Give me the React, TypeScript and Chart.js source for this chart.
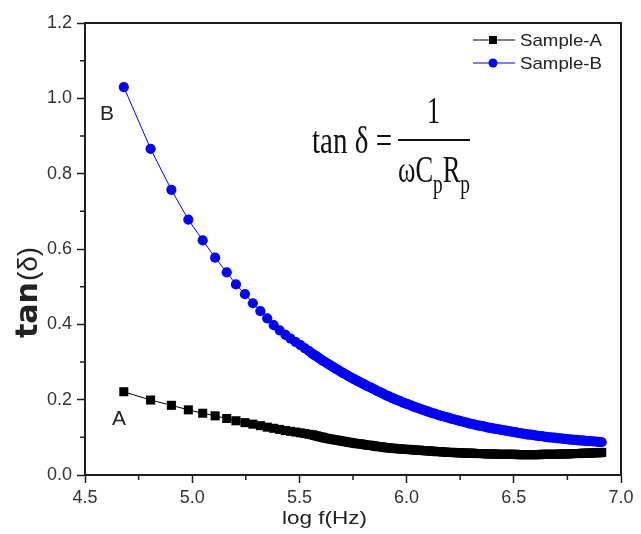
import React, { useEffect, useRef } from "react";
import { Chart, registerables } from "chart.js";

Chart.register(...registerables);

// log f (Hz) values of the measured points
const logF: number[] = [
  4.681, 4.806, 4.903, 4.982, 5.049, 5.107, 5.161, 5.204, 5.246, 5.283,
  5.318, 5.350, 5.380, 5.408, 5.435, 5.459, 5.483, 5.505, 5.526, 5.545,
  5.56, 5.57, 5.58, 5.59, 5.60, 5.61, 5.62, 5.63, 5.64, 5.65,
  5.66, 5.67, 5.68, 5.69, 5.70, 5.71, 5.72, 5.73, 5.74, 5.75,
  5.76, 5.77, 5.78, 5.79, 5.80, 5.81, 5.82, 5.83, 5.84, 5.85,
  5.86, 5.87, 5.88, 5.89, 5.90, 5.91, 5.92, 5.93, 5.94, 5.95,
  5.96, 5.97, 5.98, 5.99, 6.00, 6.01, 6.02, 6.03, 6.04, 6.05,
  6.06, 6.07, 6.08, 6.09, 6.10, 6.11, 6.12, 6.13, 6.14, 6.15,
  6.16, 6.17, 6.18, 6.19, 6.20, 6.21, 6.22, 6.23, 6.24, 6.25,
  6.26, 6.27, 6.28, 6.29, 6.30, 6.31, 6.32, 6.33, 6.34, 6.35,
  6.36, 6.37, 6.38, 6.39, 6.40, 6.41, 6.42, 6.43, 6.44, 6.45,
  6.46, 6.47, 6.48, 6.49, 6.50, 6.51, 6.52, 6.53, 6.54, 6.55,
  6.56, 6.57, 6.58, 6.59, 6.60, 6.61, 6.62, 6.63, 6.64, 6.65,
  6.66, 6.67, 6.68, 6.69, 6.70, 6.71, 6.72, 6.73, 6.74, 6.75,
  6.76, 6.77, 6.78, 6.79, 6.80, 6.81, 6.82, 6.83, 6.84, 6.85,
  6.86, 6.87, 6.88, 6.89, 6.90, 6.91,
];

const sampleA: number[] = [
  0.221, 0.199, 0.185, 0.173, 0.164, 0.157, 0.150, 0.144, 0.139, 0.135,
  0.131, 0.127, 0.124, 0.121, 0.118, 0.116, 0.114, 0.112, 0.110, 0.108,
  0.107, 0.105, 0.104, 0.102, 0.101, 0.100, 0.098, 0.097, 0.096, 0.095,
  0.094, 0.093, 0.092, 0.091, 0.090, 0.089, 0.088, 0.087, 0.086, 0.085,
  0.084, 0.083, 0.083, 0.082, 0.081, 0.080, 0.079, 0.079, 0.078, 0.077,
  0.076, 0.075, 0.075, 0.074, 0.073, 0.072, 0.072, 0.071, 0.071, 0.070,
  0.070, 0.069, 0.069, 0.068, 0.068, 0.068, 0.067, 0.067, 0.066, 0.066,
  0.066, 0.065, 0.065, 0.064, 0.064, 0.064, 0.063, 0.063, 0.062, 0.062,
  0.062, 0.061, 0.061, 0.060, 0.060, 0.060, 0.060, 0.059, 0.059, 0.059,
  0.059, 0.058, 0.058, 0.058, 0.058, 0.058, 0.057, 0.057, 0.057, 0.057,
  0.057, 0.056, 0.056, 0.056, 0.056, 0.056, 0.055, 0.055, 0.055, 0.055,
  0.055, 0.055, 0.055, 0.055, 0.055, 0.055, 0.054, 0.054, 0.054, 0.054,
  0.054, 0.054, 0.054, 0.054, 0.054, 0.054, 0.054, 0.055, 0.055, 0.055,
  0.055, 0.055, 0.055, 0.055, 0.055, 0.055, 0.056, 0.056, 0.056, 0.056,
  0.056, 0.057, 0.057, 0.057, 0.057, 0.057, 0.058, 0.058, 0.058, 0.058,
  0.058, 0.059, 0.059, 0.059, 0.059, 0.060,
];

const sampleB: number[] = [
  1.030, 0.866, 0.757, 0.678, 0.623, 0.577, 0.538, 0.506, 0.480, 0.456,
  0.435, 0.416, 0.398, 0.384, 0.372, 0.362, 0.353, 0.345, 0.336, 0.329,
  0.322, 0.318, 0.315, 0.311, 0.307, 0.303, 0.300, 0.296, 0.293, 0.289,
  0.286, 0.282, 0.279, 0.275, 0.272, 0.269, 0.266, 0.262, 0.259, 0.256,
  0.253, 0.250, 0.247, 0.244, 0.241, 0.238, 0.235, 0.233, 0.230, 0.227,
  0.224, 0.221, 0.219, 0.216, 0.213, 0.210, 0.208, 0.205, 0.203, 0.200,
  0.198, 0.196, 0.193, 0.191, 0.189, 0.187, 0.185, 0.182, 0.180, 0.178,
  0.176, 0.174, 0.172, 0.170, 0.168, 0.166, 0.164, 0.163, 0.161, 0.159,
  0.157, 0.156, 0.154, 0.153, 0.151, 0.149, 0.148, 0.146, 0.145, 0.143,
  0.142, 0.140, 0.139, 0.137, 0.136, 0.135, 0.133, 0.132, 0.131, 0.130,
  0.129, 0.127, 0.126, 0.125, 0.124, 0.123, 0.122, 0.121, 0.120, 0.119,
  0.118, 0.117, 0.116, 0.115, 0.114, 0.113, 0.112, 0.111, 0.110, 0.109,
  0.108, 0.107, 0.107, 0.106, 0.105, 0.104, 0.103, 0.103, 0.102, 0.101,
  0.100, 0.100, 0.099, 0.099, 0.098, 0.097, 0.097, 0.096, 0.096, 0.095,
  0.094, 0.094, 0.093, 0.093, 0.092, 0.092, 0.091, 0.091, 0.090, 0.090,
  0.090, 0.089, 0.089, 0.088, 0.088, 0.087,
];

const seriesNames = ["Sample-A", "Sample-B"];
const xMinorTicks = [4.75, 5.25, 5.75, 6.25, 6.75];
const yMinorTicks = [0.1, 0.3, 0.5, 0.7, 0.9, 1.1];

const AXIS = "#1e1e1e";
const TEXT = "#222";
const BLUE = "#0000ff";
const SANS = "'Liberation Sans', Arial, sans-serif";
const SERIF = "'Liberation Serif', 'Times New Roman', serif";

function scaledText(
  ctx: CanvasRenderingContext2D,
  text: string,
  x: number,
  y: number,
  font: string,
  width: number,
  align: "left" | "center" | "right"
) {
  ctx.save();
  ctx.font = font;
  const w = ctx.measureText(text).width;
  const s = width / w;
  let x0 = x;
  if (align === "center") x0 = x - width / 2;
  if (align === "right") x0 = x - width;
  ctx.translate(x0, y);
  ctx.scale(s, 1);
  ctx.textAlign = "left";
  ctx.textBaseline = "alphabetic";
  ctx.fillText(text, 0, 0);
  ctx.restore();
}

const overlayPlugin = {
  id: "overlay",
  afterDraw(chart: any) {
    const { ctx, chartArea: ca, scales } = chart;
    const xs = scales.x;
    const ys = scales.y;
    ctx.save();
    ctx.strokeStyle = AXIS;
    ctx.lineWidth = 2;
    ctx.beginPath();
    ctx.moveTo(ca.left - 1, ca.top);
    ctx.lineTo(ca.right, ca.top);
    ctx.lineTo(ca.right, ca.bottom + 1);
    ctx.stroke();

    // minor ticks
    ctx.lineWidth = 1.5;
    ctx.beginPath();
    for (const v of xMinorTicks) {
      const px = xs.getPixelForValue(v);
      ctx.moveTo(px, ca.bottom);
      ctx.lineTo(px, ca.bottom + 5);
    }
    for (const v of yMinorTicks) {
      const py = ys.getPixelForValue(v);
      ctx.moveTo(ca.left - 5, py);
      ctx.lineTo(ca.left, py);
    }
    ctx.stroke();

    ctx.fillStyle = TEXT;
    // x title
    scaledText(ctx, "log f(Hz)", 324.5, 524, `18px ${SANS}`, 85, "center");

    // y title
    ctx.save();
    ctx.translate(37, 338);
    ctx.rotate(-Math.PI / 2);
    ctx.textBaseline = "alphabetic";
    ctx.textAlign = "left";
    ctx.font = `bold 30px 'DejaVu Sans', sans-serif`;
    ctx.fillText("tan", 0, 0);
    const wt = ctx.measureText("tan").width;
    ctx.font = `28px ${SANS}`;
    ctx.fillText("(δ)", wt + 1, 0);
    ctx.restore();

    // curve labels
    ctx.font = `21px ${SANS}`;
    ctx.textAlign = "left";
    ctx.fillText("B", 100, 120);
    ctx.fillText("A", 112, 425);

    // legend
    const legY = [40, 63];
    const colors = ["#000", BLUE];
    for (let i = 0; i < 2; i++) {
      const y = legY[i];
      ctx.strokeStyle = colors[i];
      ctx.lineWidth = 1;
      ctx.beginPath();
      ctx.moveTo(473, y);
      ctx.lineTo(515, y);
      ctx.stroke();
      ctx.fillStyle = colors[i];
      if (i === 0) {
        ctx.fillRect(489, y - 4, 8, 8);
      } else {
        ctx.beginPath();
        ctx.arc(493, y, 4.5, 0, Math.PI * 2);
        ctx.fill();
      }
      ctx.fillStyle = TEXT;
      scaledText(ctx, seriesNames[i], 520, y + 5.5, `17px ${SANS}`, 82, "left");
    }

    // formula
    ctx.fillStyle = "#111";
    scaledText(ctx, "tan δ =", 392, 153, `37px ${SERIF}`, 80, "right");
    scaledText(ctx, "1", 433.5, 123, `38px ${SERIF}`, 13, "center");
    ctx.strokeStyle = "#111";
    ctx.lineWidth = 2;
    ctx.beginPath();
    ctx.moveTo(398, 140);
    ctx.lineTo(470, 140);
    ctx.stroke();
    // denominator
    const big = `37px ${SERIF}`;
    const small = `27px ${SERIF}`;
    const parts: [string, string, number][] = [
      ["ω", big, 182],
      ["C", big, 182],
      ["p", small, 193],
      ["R", big, 182],
      ["p", small, 193],
    ];
    let total = 0;
    const widths: number[] = [];
    for (const [t, f] of parts) {
      ctx.font = f;
      const w = ctx.measureText(t).width;
      widths.push(w);
      total += w;
    }
    const s = 72 / total;
    ctx.save();
    ctx.translate(398, 0);
    ctx.scale(s, 1);
    let cx = 0;
    parts.forEach(([t, f, by], i) => {
      ctx.font = f;
      ctx.fillText(t, cx, by);
      cx += widths[i];
    });
    ctx.restore();

    ctx.restore();
  },
};

export default function App() {
  const ref = useRef<HTMLCanvasElement | null>(null);

  useEffect(() => {
    document.body.style.margin = "0";
    const canvas = ref.current;
    if (!canvas) return;
    const tickFont = { family: SANS, size: 18 };
    const chart = new Chart(canvas, {
      type: "line",
      data: {
        datasets: [
          {
            label: seriesNames[0],
            data: logF.map((x, i) => ({ x, y: sampleA[i] })),
            borderColor: "#000",
            backgroundColor: "#000",
            borderWidth: 1,
            pointStyle: "rect",
            pointRadius: 6.4,
            pointBorderWidth: 0,
            pointHoverRadius: 6.4,
            tension: 0,
          },
          {
            label: seriesNames[1],
            data: logF.map((x, i) => ({ x, y: sampleB[i] })),
            borderColor: BLUE,
            backgroundColor: BLUE,
            borderWidth: 1,
            pointStyle: "circle",
            pointRadius: 5.1,
            pointBorderWidth: 0,
            pointHoverRadius: 5.1,
            tension: 0,
          },
        ],
      },
      options: {
        animation: false,
        responsive: false,
        events: [],
        layout: { padding: { top: 23, right: 20, left: 0, bottom: 0 } },
        plugins: {
          legend: { display: false },
          tooltip: { enabled: false },
          title: { display: false },
        },
        scales: {
          x: {
            type: "linear",
            min: 4.5,
            max: 7.0,
            ticks: {
              stepSize: 0.5,
              autoSkip: false,
              maxRotation: 0,
              color: "#333",
              font: tickFont,
              padding: 4,
              callback: (v: any) => Number(v).toFixed(1),
            },
            grid: {
              display: true,
              drawOnChartArea: false,
              drawTicks: true,
              tickLength: 8,
              tickWidth: 1.5,
              tickColor: AXIS,
            },
            border: { display: true, color: AXIS, width: 2 },
            afterFit: (s: any) => {
              s.height = 59;
              s.paddingLeft = 0;
              s.paddingRight = 0;
            },
          },
          y: {
            type: "linear",
            min: 0,
            max: 1.2,
            ticks: {
              stepSize: 0.2,
              color: "#333",
              font: tickFont,
              padding: 5,
              callback: (v: any) => Number(v).toFixed(1),
            },
            grid: {
              display: true,
              drawOnChartArea: false,
              drawTicks: true,
              tickLength: 8,
              tickWidth: 1.5,
              tickColor: AXIS,
            },
            border: { display: true, color: AXIS, width: 2 },
            afterFit: (s: any) => {
              s.width = 85;
              s.paddingTop = 0;
              s.paddingBottom = 0;
            },
          },
        },
      },
      plugins: [overlayPlugin],
    } as any);
    return () => chart.destroy();
  }, []);

  return (
    <div style={{ width: 641, height: 534, background: "#fff" }}>
      <canvas ref={ref} width={641} height={534} style={{ display: "block" }} />
    </div>
  );
}
